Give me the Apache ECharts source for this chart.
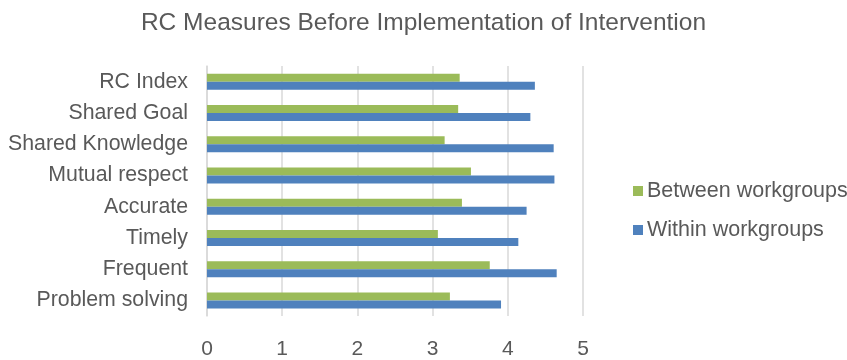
<!DOCTYPE html>
<html>
<head>
<meta charset="utf-8">
<script src="https://cdn.jsdelivr.net/npm/echarts@6/dist/echarts.min.js"></script>
<style>
  html, body { margin: 0; padding: 0; background: #fff; }
  #chart { width: 847px; height: 360px; }
</style>
</head>
<body>
<div id="chart"></div>
<script>
// Categories listed bottom to top along the vertical axis
const categories = ['Problem solving', 'Frequent', 'Timely', 'Accurate', 'Mutual respect', 'Shared Knowledge', 'Shared Goal', 'RC Index'];
const withinWorkgroups = [3.91, 4.65, 4.14, 4.25, 4.62, 4.61, 4.30, 4.36];
const betweenWorkgroups = [3.23, 3.76, 3.07, 3.39, 3.51, 3.16, 3.34, 3.36];
const valueTicks = [0, 1, 2, 3, 4, 5];

const textColor = '#595959';
const font = '"Liberation Sans", Arial, sans-serif';

const chart = echarts.init(document.getElementById('chart'), null, { renderer: 'canvas' });
chart.setOption({
  animation: false,
  title: {
    text: 'RC Measures Before Implementation of Intervention',
    left: 'center',
    top: 6,
    textStyle: { color: textColor, fontFamily: font, fontSize: 24.5, fontWeight: 'normal' }
  },
  legend: {
    orient: 'vertical',
    left: 628,
    top: 175,
    itemGap: 17,
    itemWidth: 10,
    itemHeight: 10,
    icon: 'rect',
    data: ['Between workgroups', 'Within workgroups'],
    textStyle: { color: textColor, fontFamily: font, fontSize: 21.5, padding: [0, 0, 0, -1] }
  },
  grid: { left: 207, right: 264, top: 66, bottom: 42, containLabel: false },
  xAxis: {
    type: 'value',
    min: valueTicks[0],
    max: valueTicks[valueTicks.length - 1],
    interval: 1,
    axisLine: { show: false },
    axisTick: { show: false },
    axisLabel: { color: textColor, fontFamily: font, fontSize: 21, margin: 23 },
    splitLine: { show: true, lineStyle: { color: '#d9d9d9', width: 1.5 } }
  },
  yAxis: {
    type: 'category',
    data: categories,
    axisLine: { show: true, lineStyle: { color: '#d9d9d9', width: 1.5 } },
    axisTick: { show: false },
    axisLabel: { color: textColor, fontFamily: font, fontSize: 21.3, margin: 19 }
  },
  series: [
    {
      name: 'Between workgroups',
      type: 'bar',
      data: betweenWorkgroups,
      barWidth: 8,
      barGap: '0%',
      itemStyle: { color: '#9BBB59' }
    },
    {
      name: 'Within workgroups',
      type: 'bar',
      data: withinWorkgroups,
      barWidth: 8,
      barGap: '0%',
      itemStyle: { color: '#4F81BD' }
    }
  ]
});
</script>
</body>
</html>
